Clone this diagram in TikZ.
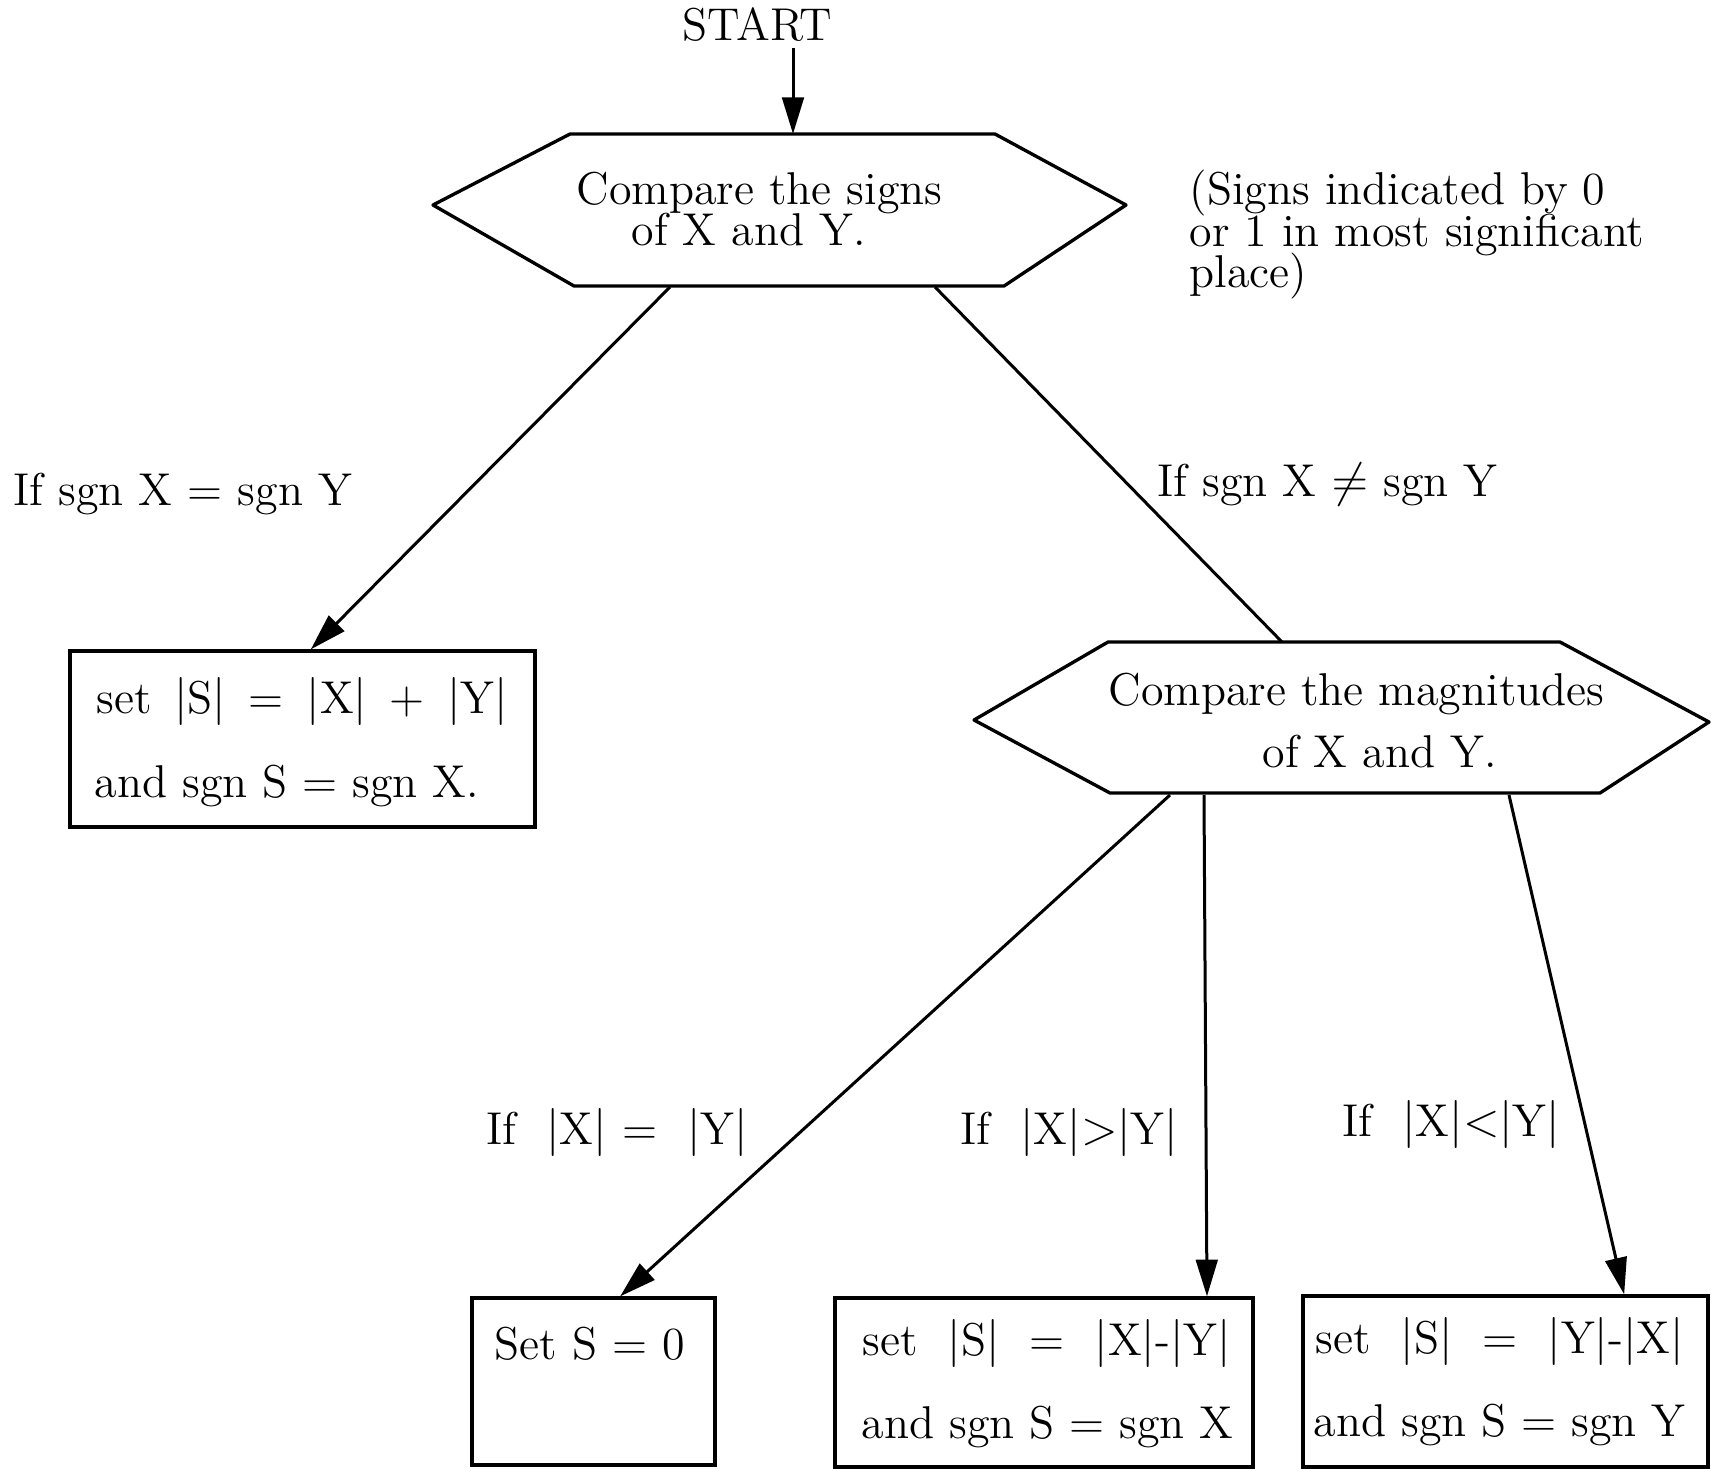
\documentclass[tikz,border=0pt]{standalone}
\usetikzlibrary{arrows.meta}
\newcommand\vb{$|$}
\begin{document}
\begin{tikzpicture}[x=0.3pt,y=-0.3pt,
  txt/.style={anchor=base west, inner sep=0pt, font=\fontsize{13.8pt}{12.4pt}\selectfont},
  shapeline/.style={line width=1pt, line join=round},
  conn/.style={line width=0.9pt},
  arr/.style={conn, -{Triangle[length=11pt,width=6.5pt]}},
  boxst/.style={draw, line width=1pt, inner sep=0pt}]
\useasboundingbox (0,0) rectangle (1711,1469);

% START
\node[txt] (start) at (682,40) {START};
\coordinate (s1) at (793,48);

% hexagon 1
\coordinate (h1a) at (570,134);
\coordinate (h1T) at (793,134);
\coordinate (h1b) at (995,134);
\coordinate (h1c) at (1126,205);
\coordinate (h1d) at (1004,286);
\coordinate (h1e) at (574,286);
\coordinate (h1f) at (433,205);
\draw[shapeline] (h1a) -- (h1b) -- (h1c) -- (h1d) -- (h1e) -- (h1f) -- cycle;
\node[txt] (h1t1) at (576,204) {Compare the signs};
\node[txt] (h1t2) at (631,245) {of X and Y.};
\coordinate (h1L) at (670,287);
\coordinate (h1R) at (935,287);

% note
\node[txt] (n1) at (1189,204) {(Signs indicated by 0};
\node[txt] (n2) at (1189,246) {or 1 in most significant};
\node[txt] (n3) at (1189,287) {place)};

% labels
\node[txt] (l1) at (13,505) {If sgn X = sgn Y};
\node[txt] (l2) at (1157,496) {If sgn X $\neq$ sgn Y};

% box 1
\node[boxst, minimum width=139.5pt, minimum height=52.8pt] (b1) at (302.5,739) {};
\node[txt] (b1t1) at (96,713) {set \,\vb S\vb\ \,= \,\vb X\vb\ \,+ \,\vb Y\vb};
\node[txt] (b1t2) at (94,797) {and sgn S = sgn X.};

% hexagon 2
\coordinate (h2a) at (1108,642);
\coordinate (h2T) at (1282,642);
\coordinate (h2b) at (1560,642);
\coordinate (h2c) at (1709,722);
\coordinate (h2d) at (1600,793);
\coordinate (h2e) at (1110,793);
\coordinate (h2f) at (974,720);
\draw[shapeline] (h2a) -- (h2b) -- (h2c) -- (h2d) -- (h2e) -- (h2f) -- cycle;
\node[txt] (h2t1) at (1108,705) {Compare the magnitudes};
\node[txt] (h2t2) at (1262,767) {of X and Y.};
\coordinate (h2L) at (1170,795);
\coordinate (h2M) at (1204,795);
\coordinate (h2R) at (1509,795);

% labels lower
\node[txt] (l3) at (486,1144) {If \ \vb X\vb\ = \ \vb Y\vb};
\node[txt] (l4) at (960,1144) {If \ \vb X\vb$>$\vb Y\vb};
\node[txt] (l5) at (1342,1136) {If \ \vb X\vb$<$\vb Y\vb};

% bottom boxes
\node[boxst, minimum width=72.9pt, minimum height=50.1pt] (bA) at (593.5,1381.5) {};
\node[txt] (bAt) at (494,1359) {Set S = 0};
\node[boxst, minimum width=125.4pt, minimum height=50.7pt] (bB) at (1044,1382.5) {};
\node[txt] (bBt1) at (862,1355) {set \ \vb S\vb\ \ = \ \vb X\vb-\vb Y\vb};
\node[txt] (bBt2) at (861,1438) {and sgn S = sgn X};
\node[boxst, minimum width=121.5pt, minimum height=51.3pt] (bC) at (1505.5,1381.5) {};
\node[txt] (bCt1) at (1315,1353) {set \ \vb S\vb\ \ = \ \vb Y\vb-\vb X\vb};
\node[txt] (bCt2) at (1313,1436) {and sgn S = sgn Y};

% connectors
\draw[arr] (s1) -- (h1T);
\draw[arr] (h1L) -- ([xshift=2.5pt]b1.north);
\draw[conn] (h1R) -- (h2T);
\draw[arr] (h2L) -- ([xshift=8pt]bA.north);
\draw[arr] (h2M) -- ([xshift=48.9pt]bB.north);
\draw[arr] (h2R) -- ([xshift=35.6pt]bC.north);
\end{tikzpicture}
\end{document}
